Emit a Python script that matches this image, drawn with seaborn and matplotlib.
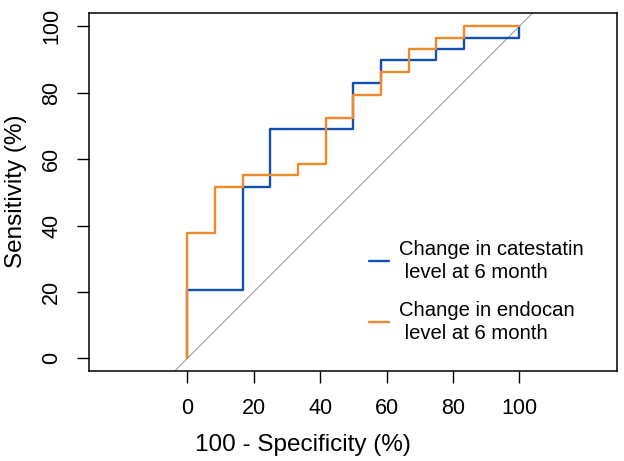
import matplotlib
matplotlib.use("Agg")
import matplotlib.pyplot as plt
import seaborn as sns
import pandas as pd

# ROC curve points (100 - specificity %, sensitivity %)
catestatin_fpr = [0, 0, 16.7, 16.7, 25, 25, 50, 50, 58.3, 58.3, 75, 75, 83.3, 83.3, 100, 100]
catestatin_tpr = [0, 20.7, 20.7, 51.7, 51.7, 69.0, 69.0, 82.8, 82.8, 89.7, 89.7, 93.1, 93.1, 96.6, 96.6, 100]
endocan_fpr = [0, 0, 8.3, 8.3, 16.7, 16.7, 33.3, 33.3, 41.7, 41.7, 50, 50, 58.3, 58.3, 66.7, 66.7, 75, 75, 83.3, 83.3, 100]
endocan_tpr = [0, 37.9, 37.9, 51.7, 51.7, 55.2, 55.2, 58.6, 58.6, 72.4, 72.4, 79.3, 79.3, 86.2, 86.2, 93.1, 93.1, 96.6, 96.6, 100, 100]
series_labels = ["Change in catestatin\n level at 6 month", "Change in endocan\n level at 6 month"]
tick_values = [0, 20, 40, 60, 80, 100]

sns.set_theme(style="white")
plt.rcParams['font.family'] = ['Liberation Sans', 'DejaVu Sans']
plt.rcParams['text.color'] = 'black'
plt.rcParams['axes.labelcolor'] = 'black'
plt.rcParams['xtick.color'] = 'black'
plt.rcParams['ytick.color'] = 'black'

df = pd.concat([
    pd.DataFrame({"fpr": catestatin_fpr, "tpr": catestatin_tpr, "series": series_labels[0]}),
    pd.DataFrame({"fpr": endocan_fpr, "tpr": endocan_tpr, "series": series_labels[1]}),
], ignore_index=True)

fig = plt.figure(figsize=(6.24, 4.61), dpi=100)
ax = fig.add_axes([89/624, 1-371/461, (617.3-89)/624, (371-13)/461])

ax.axline((0, 0), slope=1, color="#a0a0a0", lw=0.8, zorder=1)

palette = {series_labels[0]: "#1150b2", series_labels[1]: "#ee8a2c"}
sns.lineplot(data=df, x="fpr", y="tpr", hue="series", palette=palette,
             sort=False, estimator=None, units="series", lw=1.7, ax=ax, zorder=3)

ax.set_xlim(-29.6, 129.5)
ax.set_ylim(-3.8, 104)
ax.set_xticks(tick_values)
ax.set_yticks(tick_values)
ax.set_xticklabels([str(v) for v in tick_values], fontsize=15.5)
ax.set_yticklabels([str(v) for v in tick_values], fontsize=15.5, rotation=90, va="center")
ax.tick_params(axis="both", direction="out", length=8.8, width=1.0, color="black",
               pad=10.5, bottom=True, left=True, labelcolor="black")
for s in ax.spines.values():
    s.set_color("black")
    s.set_linewidth(1.1)
    s.set_visible(True)

ax.set_xlabel("100 - Specificity (%)", fontsize=17.5, color="black")
ax.set_ylabel("Sensitivity (%)", fontsize=17.5, color="black")
ax.xaxis.set_label_coords((303 - 89) / 528, (371 - 445) / 358)
ax.xaxis.label.set_va("center")
ax.yaxis.set_label_coords((16 - 89) / 528, (371 - 191) / 358)
ax.yaxis.label.set_va("center")

leg = ax.legend(loc="center left", bbox_to_anchor=((369 - 89) / 528, (371 - 291.5) / 358),
                frameon=False, fontsize=14.6, handlelength=1.0, handletextpad=0.45,
                labelspacing=0.95, borderpad=0, borderaxespad=0)
for t in leg.get_texts():
    t.set_linespacing(1.25)
    t.set_color("black")
for l in leg.get_lines():
    l.set_linewidth(1.7)

fig.savefig("out.png", dpi=100)
